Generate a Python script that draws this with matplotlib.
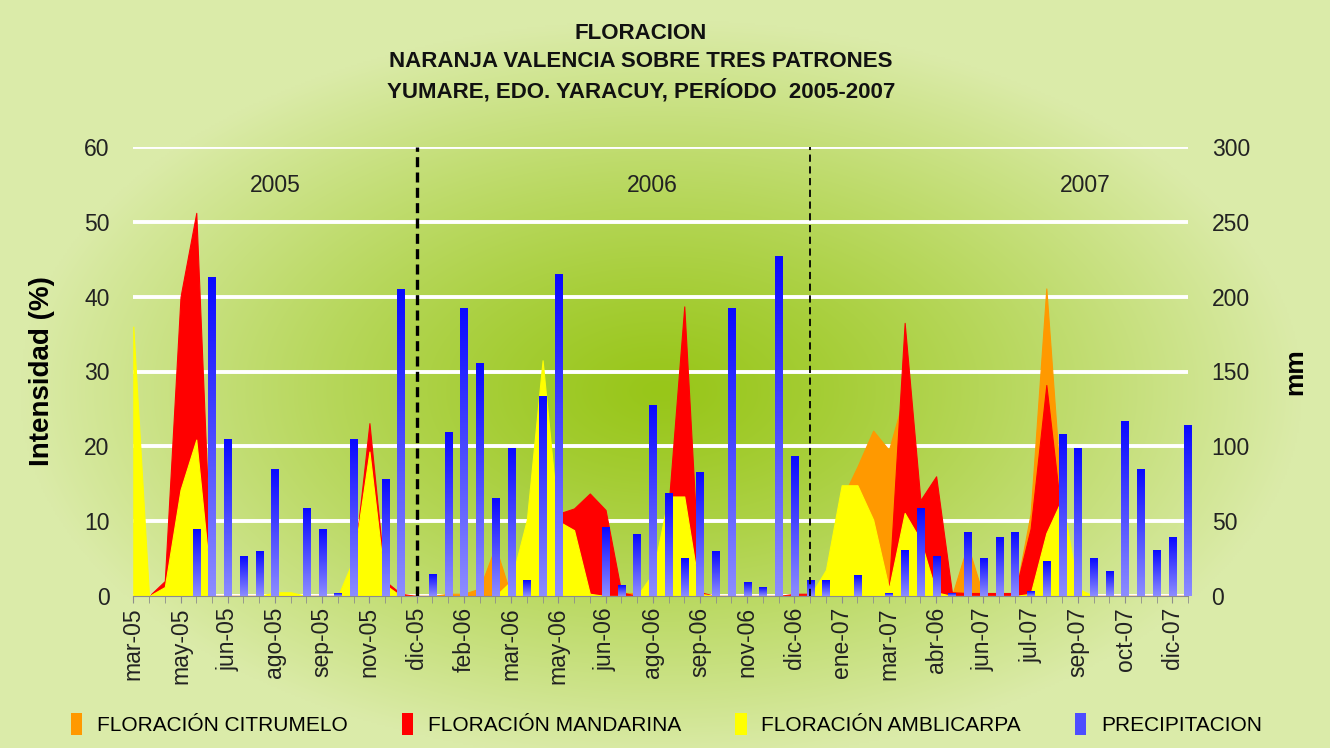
import numpy as np
import matplotlib
matplotlib.use('Agg')
import matplotlib.pyplot as plt
from matplotlib.colors import LinearSegmentedColormap, to_rgb
from matplotlib.patches import Patch

plt.rcParams['font.family'] = ['Liberation Sans', 'DejaVu Sans']

# labels every third sampling date
tick_labels = ['mar-05', 'may-05', 'jun-05', 'ago-05', 'sep-05', 'nov-05', 'dic-05',
               'feb-06', 'mar-06', 'may-06', 'jun-06', 'ago-06', 'sep-06', 'nov-06',
               'dic-06', 'ene-07', 'mar-07', 'abr-06', 'jun-07', 'jul-07', 'sep-07',
               'oct-07', 'dic-07']

# flowering intensity (%) per sampling date
citrumelo = [0, 0, 0, 0, 0, 0, 0, 0, 0, 0,
             0, 0, 0, 0, 0, 0, 0, 0, 0, 0,
             0.3, 0.3, 1, 6.6, 0, 0, 0, 0, 0, 0,
             0, 0.4, 0.4, 0, 0, 0, 0, 0, 0, 0,
             0, 0, 0, 0, 0, 12.9, 17.3, 22.1, 19.5, 27,
             8, 0, 0, 6.8, 0, 0, 0, 11, 41.1, 12,
             0, 0, 0, 0, 0, 0, 0, 0]
mandarina = [0, 0, 2, 40, 51.2, 0, 0, 0, 0, 0,
             0, 0, 0, 0, 4, 23.1, 2, 0.3, 0, 0,
             0, 0, 0, 0, 0, 0, 0, 11, 11.7, 13.7,
             11.5, 0.5, 0, 0, 12, 38.7, 0.5, 0, 0, 0,
             0, 0, 0.3, 0.3, 0, 0, 0, 0, 1, 36.5,
             12.8, 16, 0.5, 0.4, 0.4, 0.4, 0.4, 9, 28.2, 10,
             0, 0, 0, 0, 0, 0, 0, 0]
amblicarpa = [36, 0, 1.2, 14.2, 20.9, 0, 0, 0, 0, 0.5,
              0.5, 0, 0, 0, 5, 19.3, 1.5, 0, 0, 0,
              0, 0, 0, 0, 2, 10.2, 31.5, 10, 8.8, 0.3,
              0, 0, 0, 3, 13.3, 13.3, 0.3, 0, 0, 0,
              0, 0, 0, 0, 3.5, 14.8, 14.8, 10.2, 1, 11.1,
              7.5, 0.5, 0, 0, 0, 0, 0, 0.3, 8.4, 13,
              1, 0, 0, 0, 0, 0, 0, 0]
# rainfall (mm)
precipitacion = [0, 0, 0, 0, 44.5, 212.7, 104.7, 26.3, 29.6, 84.2,
                 0, 58.6, 44.5, 1.8, 104.7, 0, 78, 204.9, 0, 14.5,
                 109.1, 192, 155.5, 65.3, 98.7, 10.2, 133.2, 214.9, 0, 0,
                 45.9, 7.3, 41.4, 127.6, 68.6, 25.2, 82.4, 29.6, 192, 8.9,
                 5.8, 226.7, 93.1, 10.2, 10.2, 0, 13.4, 0, 1.8, 30.7,
                 58.6, 26.7, 1.8, 42.3, 25.2, 39.2, 42.3, 2.9, 22.9, 108.2,
                 98.7, 25.2, 16.7, 116.9, 84.6, 30.7, 39.2, 113.8]

year_names = ['2005', '2006', '2007']
year_pos = [9, 33, 60.5]
year_breaks = [18, 43]

x = np.arange(len(precipitacion))
edge_col = '#dbeba9'

fig = plt.figure(figsize=(13.3, 7.48), dpi=100, facecolor=edge_col)

# radial green background
bg = fig.add_axes([0, 0, 1, 1], zorder=-10)
yy, xx = np.mgrid[0:748:2, 0:1330:2]
t = np.sqrt(((xx - 660) / 640) ** 2 + ((yy - 390) / 370) ** 2)
t = np.clip(t, 0, 1) ** 1.2
c0 = np.array(to_rgb('#98c619'))
c1 = np.array(to_rgb(edge_col))
bg.imshow(c0 * (1 - t[..., None]) + c1 * t[..., None], extent=[0, 1, 0, 1],
          aspect='auto', interpolation='bilinear')
bg.axis('off')

ax = fig.add_axes([133.3 / 1330, 1 - 596 / 748, (1188 - 133.3) / 1330, 449 / 748])
ax.patch.set_alpha(0)

ax.fill_between(x, citrumelo, color='#ff9900', lw=0.8, zorder=2)
ax.fill_between(x, mandarina, color='#ff0000', lw=0.8, zorder=2.1)
ax.fill_between(x, amblicarpa, color='#ffff00', lw=0.8, zorder=2.2)

ax.set_xlim(0, len(x) - 1)
ax.set_ylim(0, 60)
ax.set_yticks(range(0, 61, 10))
ax.yaxis.grid(True, color='white', lw=2.8)
ax.set_axisbelow(True)
ax.set_xticks(x[::3])
ax.set_xticklabels(tick_labels, rotation=90, fontsize=16.5, color='#222222')
ax.set_xticks(x, minor=True)
ax.tick_params(axis='x', which='both', length=5, color='#8c8c8c', pad=3)
ax.tick_params(axis='y', length=0, pad=17, labelsize=16.5, labelcolor='#222222')
for s in ['top', 'left', 'right']:
    ax.spines[s].set_visible(False)
ax.spines['bottom'].set_color('#8c8c8c')
ax.set_ylabel('Intensidad (%)', fontsize=20, fontweight='bold')
ax.yaxis.set_label_coords(-0.074, 0.5)

for name, pos in zip(year_names, year_pos):
    ax.text(pos, 54.8, name, ha='center', va='center', fontsize=16.5, color='#222222')

# rainfall bars with vertical gradient
ax2 = ax.twinx()
bars = ax2.bar(x, precipitacion, width=0.45, color='none', lw=0, zorder=3)
blue = LinearSegmentedColormap.from_list('pp', ['#0a0aff', '#8c8cff'])
grad = np.linspace(0, 1, 64).reshape(-1, 1)
for b in bars:
    if b.get_height() <= 0:
        continue
    im = ax2.imshow(grad, cmap=blue, aspect='auto', interpolation='bilinear',
                    extent=[b.get_x(), b.get_x() + b.get_width(), 0, b.get_height()],
                    zorder=3)
    im.set_clip_on(False)
ax2.axvline(year_breaks[0], color='black', ls=(0, (3, 1.6)), lw=2.4, zorder=5)
ax2.axvline(year_breaks[1], color='black', ls=(0, (4, 2.5)), lw=1.3, zorder=5)
ax2.set_xlim(0, len(x) - 1)
ax2.set_ylim(0, 300)
ax2.set_yticks(range(0, 301, 50))
ax2.tick_params(axis='y', length=0, pad=17, labelsize=16.5, labelcolor='#222222')
for s in ['top', 'left', 'right', 'bottom']:
    ax2.spines[s].set_visible(False)
ax2.set_ylabel('mm', fontsize=19, fontweight='bold')
ax2.yaxis.set_label_coords(1.09, 0.5)

fig.text(0.482, 0.916,
         'FLORACION\nNARANJA VALENCIA SOBRE TRES PATRONES\nYUMARE, EDO. YARACUY, PERÍODO  2005-2007',
         ha='center', va='center', fontsize=16, fontweight='bold', linespacing=1.4,
         multialignment='center', color='#111111')

handles = [Patch(facecolor='#ff9900'), Patch(facecolor='#ff0000'),
           Patch(facecolor='#ffff00'), Patch(facecolor='#4d4dff')]
labels = ['FLORACIÓN CITRUMELO', 'FLORACIÓN MANDARINA',
          'FLORACIÓN AMBLICARPA', 'PRECIPITACION']
fig.legend(handles, labels, loc='center', bbox_to_anchor=(0.501, 0.032), ncol=4,
           frameon=False, fontsize=15, handlelength=0.55, handleheight=1.3,
           handletextpad=0.7, columnspacing=2.6)

fig.savefig('out.png', dpi=100, facecolor=fig.get_facecolor())
